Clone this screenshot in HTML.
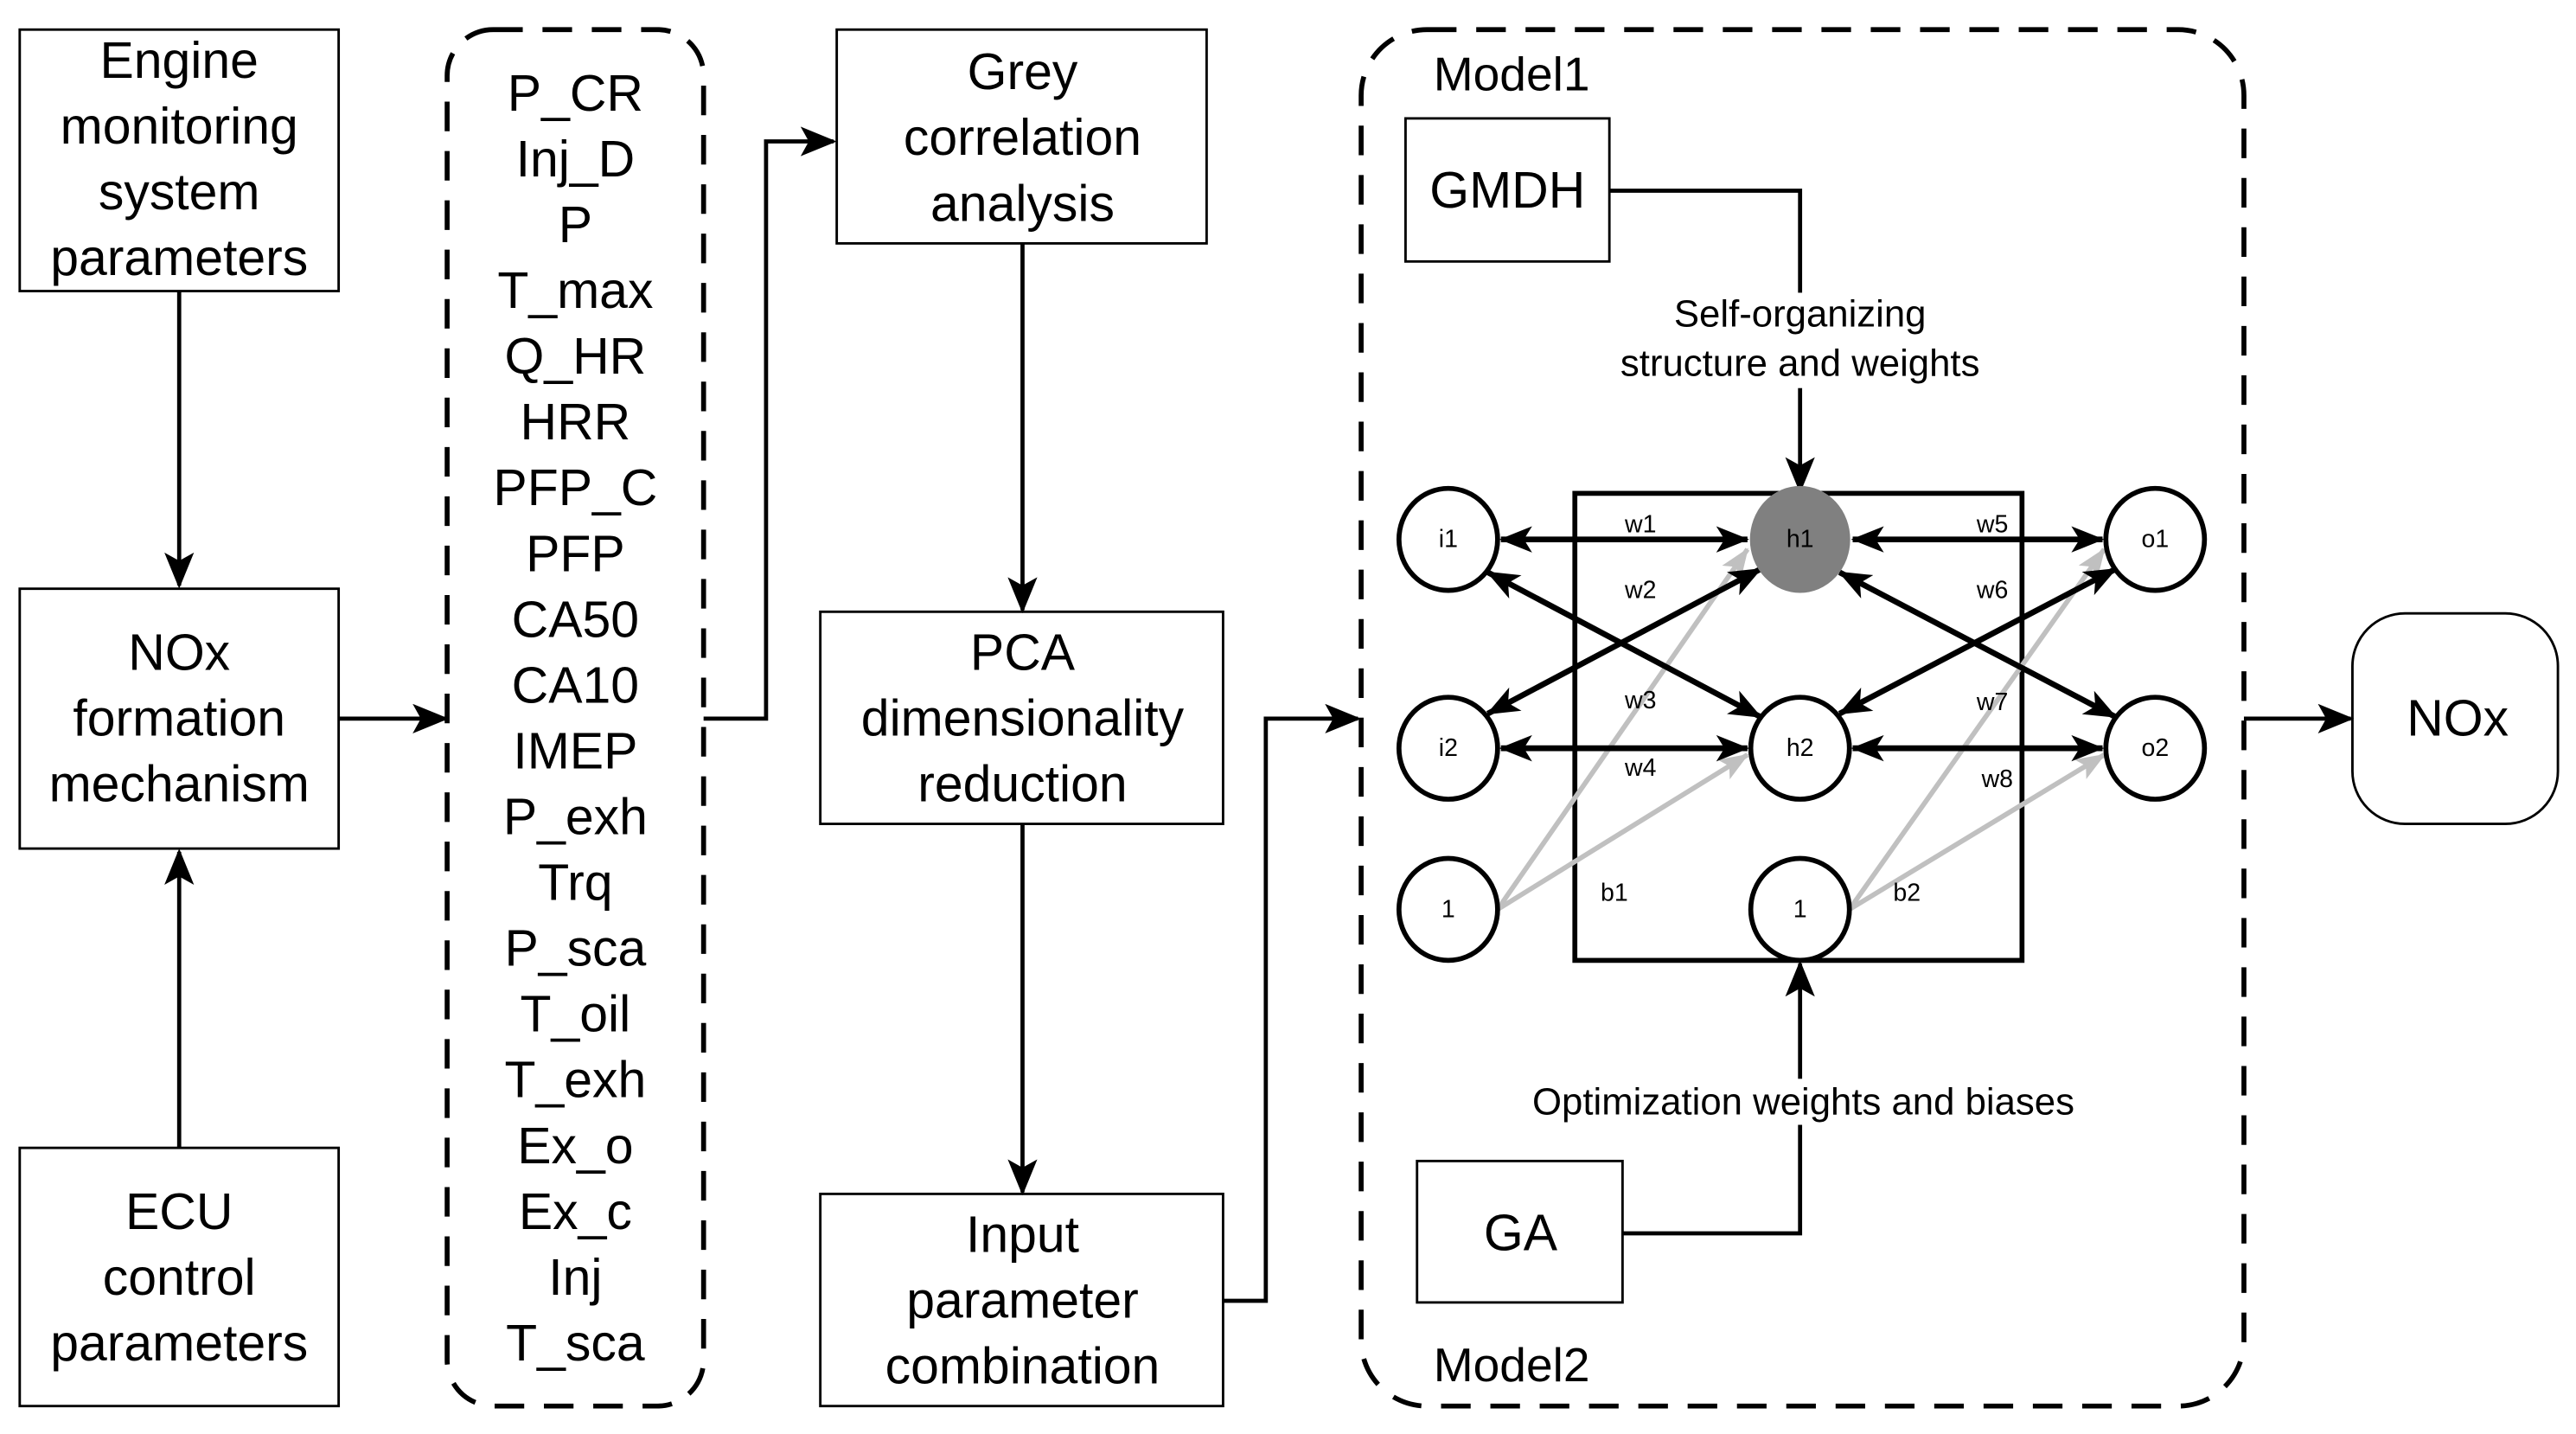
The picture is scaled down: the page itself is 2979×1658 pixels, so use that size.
<!DOCTYPE html>
<html><head><meta charset="utf-8"><style>html,body{margin:0;padding:0;background:#fff}svg{display:block}</style></head>
<body>
<svg width="2979" height="1658" viewBox="0 0 1567 872" preserveAspectRatio="none" xmlns="http://www.w3.org/2000/svg" font-family="Liberation Sans, Arial, sans-serif">
<defs>
<marker id="b" markerWidth="22" markerHeight="18" refX="20" refY="9" orient="auto-start-reverse" markerUnits="userSpaceOnUse" viewBox="0 0 22 18"><path d="M0,0 L22,9 L0,18 L5,9 Z" fill="#000"/></marker>
<marker id="s" markerWidth="20" markerHeight="16" refX="19" refY="8" orient="auto-start-reverse" markerUnits="userSpaceOnUse" viewBox="0 0 20 16"><path d="M0,0 L20,8 L0,16 L5,8 Z" fill="#000"/></marker>
<marker id="g" markerWidth="18" markerHeight="14" refX="17" refY="7" orient="auto" markerUnits="userSpaceOnUse" viewBox="0 0 18 14"><path d="M0,0 L18,7 L0,14 L4,7 Z" fill="#c0c0c0"/></marker>
</defs>
<g fill="none" stroke="#000" stroke-width="1.5">
<rect x="12" y="18" width="194" height="159"/>
<rect x="12" y="358" width="194" height="158"/>
<rect x="12" y="698" width="194" height="157"/>
<rect x="509" y="18" width="225" height="130"/>
<rect x="499" y="372" width="245" height="129"/>
<rect x="499" y="726" width="245" height="129"/>
<rect x="855" y="72" width="124" height="87"/>
<rect x="862" y="706" width="125" height="86"/>
<rect x="1431" y="373" width="125" height="128" rx="32"/>
</g>
<g fill="none" stroke="#000" stroke-width="3" stroke-dasharray="18,12">
<rect x="272" y="18" width="156" height="837" rx="28"/>
<rect x="828" y="18" width="537" height="837" rx="40"/>
</g>
<g fill="none" stroke="#000" stroke-width="2.5">
<line x1="109" y1="177" x2="109" y2="356" marker-end="url(#b)"/>
<line x1="109" y1="698" x2="109" y2="518" marker-end="url(#b)"/>
<line x1="206" y1="437" x2="271" y2="437" marker-end="url(#b)"/>
<polyline points="428,437 466,437 466,86 507,86" marker-end="url(#b)"/>
<line x1="622" y1="148" x2="622" y2="371" marker-end="url(#b)"/>
<line x1="622" y1="501" x2="622" y2="725" marker-end="url(#b)"/>
<polyline points="744,791 770,791 770,437 826,437" marker-end="url(#b)"/>
<polyline points="979,116 1095,116 1095,298" marker-end="url(#b)"/>
<polyline points="987,750 1095,750 1095,586" marker-end="url(#b)"/>
<line x1="1365" y1="437" x2="1430" y2="437" marker-end="url(#b)"/>
<rect x="958" y="300" width="272" height="284" stroke-width="3"/>
</g>
<g fill="#fff">
<rect x="1010" y="178" width="172" height="58"/>
<rect x="920" y="656" width="354" height="28"/>
</g>
<g stroke="#c0c0c0" stroke-width="3" fill="none">
<line x1="911" y1="553" x2="1063" y2="334" marker-end="url(#g)"/>
<line x1="911" y1="553" x2="1063" y2="459" marker-end="url(#g)"/>
<line x1="1125" y1="553" x2="1280" y2="334" marker-end="url(#g)"/>
<line x1="1125" y1="553" x2="1280" y2="459" marker-end="url(#g)"/>
</g>
<g stroke="#000" stroke-width="3.5" fill="none">
<line x1="913" y1="328" x2="1063" y2="328" marker-start="url(#s)" marker-end="url(#s)"/>
<line x1="1127" y1="328" x2="1279" y2="328" marker-start="url(#s)" marker-end="url(#s)"/>
<line x1="913" y1="455" x2="1063" y2="455" marker-start="url(#s)" marker-end="url(#s)"/>
<line x1="1127" y1="455" x2="1279" y2="455" marker-start="url(#s)" marker-end="url(#s)"/>
<line x1="905" y1="348" x2="1071" y2="436" marker-start="url(#s)" marker-end="url(#s)"/>
<line x1="905" y1="434" x2="1071" y2="346" marker-start="url(#s)" marker-end="url(#s)"/>
<line x1="1119" y1="348" x2="1287" y2="436" marker-start="url(#s)" marker-end="url(#s)"/>
<line x1="1119" y1="434" x2="1287" y2="346" marker-start="url(#s)" marker-end="url(#s)"/>
</g>
<g stroke="#000" stroke-width="3" fill="#fff">
<ellipse cx="881" cy="328" rx="30" ry="31"/>
<ellipse cx="881" cy="455" rx="30" ry="31"/>
<ellipse cx="881" cy="553" rx="30" ry="31"/>
<ellipse cx="1095" cy="328" rx="29" ry="31" fill="#808080" stroke="#808080"/>
<ellipse cx="1095" cy="455" rx="30" ry="31"/>
<ellipse cx="1095" cy="553" rx="30" ry="31"/>
<ellipse cx="1311" cy="328" rx="30" ry="31"/>
<ellipse cx="1311" cy="455" rx="30" ry="31"/>
</g>
<g font-size="15" text-anchor="middle" dominant-baseline="central" fill="#000">
<text x="881" y="328">i1</text><text x="881" y="455">i2</text><text x="881" y="553">1</text>
<text x="1095" y="328">h1</text><text x="1095" y="455">h2</text><text x="1095" y="553">1</text>
<text x="1311" y="328">o1</text><text x="1311" y="455">o2</text>
<text x="998" y="319">w1</text><text x="998" y="359">w2</text><text x="998" y="426">w3</text><text x="998" y="467">w4</text>
<text x="1212" y="319">w5</text><text x="1212" y="359">w6</text><text x="1212" y="427">w7</text><text x="1215" y="474">w8</text>
<text x="982" y="543">b1</text><text x="1160" y="543">b2</text>
</g>
<g font-size="31" text-anchor="middle" dominant-baseline="central" fill="#000">
<text x="109" y="37">Engine</text><text x="109" y="77">monitoring</text><text x="109" y="117">system</text><text x="109" y="157">parameters</text>
<text x="109" y="397">NOx</text><text x="109" y="437">formation</text><text x="109" y="477">mechanism</text>
<text x="109" y="737">ECU</text><text x="109" y="777">control</text><text x="109" y="817">parameters</text>
<text x="622" y="44">Grey</text><text x="622" y="84">correlation</text><text x="622" y="124">analysis</text>
<text x="622" y="397">PCA</text><text x="622" y="437">dimensionality</text><text x="622" y="477">reduction</text>
<text x="622" y="751">Input</text><text x="622" y="791">parameter</text><text x="622" y="831">combination</text>
<text x="917" y="116">GMDH</text><text x="925" y="750">GA</text><text x="1495" y="437">NOx</text>
<text x="350" y="57">P_CR</text><text x="350" y="97">Inj_D</text><text x="350" y="137">P</text><text x="350" y="177">T_max</text>
<text x="350" y="217">Q_HR</text><text x="350" y="257">HRR</text><text x="350" y="297">PFP_C</text><text x="350" y="337">PFP</text>
<text x="350" y="377">CA50</text><text x="350" y="417">CA10</text><text x="350" y="457">IMEP</text><text x="350" y="497">P_exh</text>
<text x="350" y="537">Trq</text><text x="350" y="577">P_sca</text><text x="350" y="617">T_oil</text><text x="350" y="657">T_exh</text>
<text x="350" y="697">Ex_o</text><text x="350" y="737">Ex_c</text><text x="350" y="777">Inj</text><text x="350" y="817">T_sca</text>
</g>
<g font-size="29" dominant-baseline="central" fill="#000">
<text x="872" y="45">Model1</text><text x="872" y="830">Model2</text>
</g>
<g font-size="23" text-anchor="middle" dominant-baseline="central" fill="#000">
<text x="1095" y="191">Self-organizing</text><text x="1095" y="221">structure and weights</text>
<text x="1097" y="670">Optimization weights and biases</text>
</g>
</svg>
</body></html>
